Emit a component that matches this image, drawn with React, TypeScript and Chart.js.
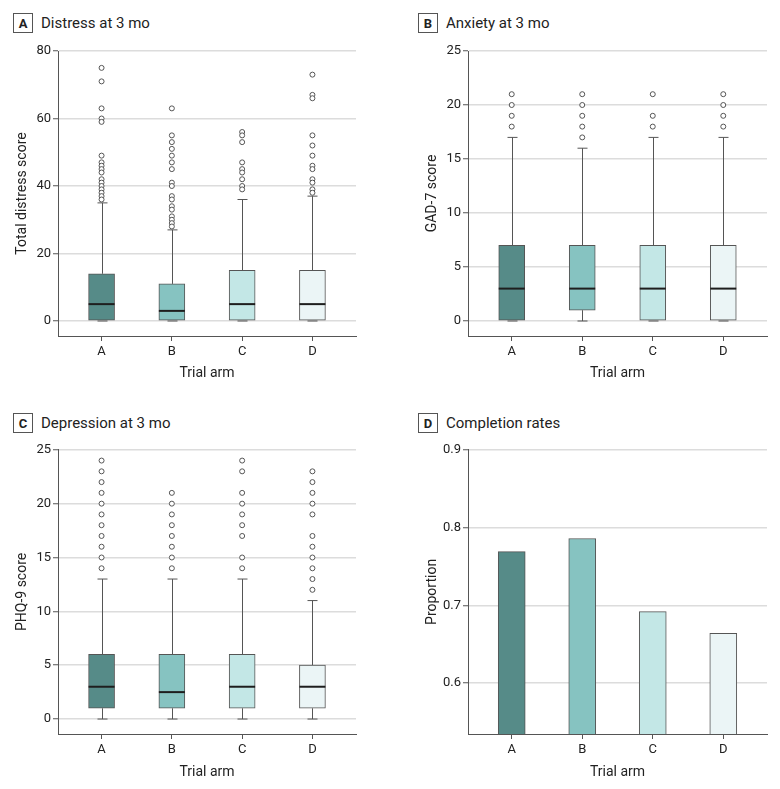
import React, { useEffect, useRef } from 'react';
import { Chart, registerables } from 'chart.js';
Chart.register(...registerables);

const FONT = "'Liberation Sans Narrow', Roboto, 'Noto Sans', sans-serif";
const TEXT = '#222';
const AXIS = '#555';

const arms = ['A', 'B', 'C', 'D'];
const armPositions = [1, 2, 3, 4];
const fillColors = ['#568b88', '#86c3c1', '#c3e7e6', '#ebf5f6'];

// Panel A: Distress at 3 mo
const distressTicks = [0, 20, 40, 60, 80];
const distressLow = [0, 0, 0, 0];
const distressQ1 = [0, 0, 0, 0];
const distressMedian = [5, 3, 5, 5];
const distressQ3 = [14, 11, 15, 15];
const distressHigh = [35, 27, 36, 37];
const distressOutliersA = [75, 71, 63, 60, 59, 49, 47, 46, 45, 44, 42, 41, 40, 39, 38, 37, 36];
const distressOutliersB = [63, 55, 53, 51, 49, 47, 45, 41, 40, 37, 36, 34, 33, 31, 30, 29, 28];
const distressOutliersC = [56, 55, 53, 47, 45, 44, 42, 40, 39];
const distressOutliersD = [73, 67, 66, 55, 52, 49, 46, 45, 42, 41, 39, 38];

// Panel B: Anxiety at 3 mo
const anxietyTicks = [0, 5, 10, 15, 20, 25];
const anxietyLow = [0, 0, 0, 0];
const anxietyQ1 = [0, 1, 0, 0];
const anxietyMedian = [3, 3, 3, 3];
const anxietyQ3 = [7, 7, 7, 7];
const anxietyHigh = [17, 16, 17, 17];
const anxietyOutliersA = [21, 20, 19, 18];
const anxietyOutliersB = [21, 20, 19, 18, 17];
const anxietyOutliersC = [21, 19, 18];
const anxietyOutliersD = [21, 20, 19, 18];

// Panel C: Depression at 3 mo
const depressionTicks = [0, 5, 10, 15, 20, 25];
const depressionLow = [0, 0, 0, 0];
const depressionQ1 = [1, 1, 1, 1];
const depressionMedian = [3, 2.5, 3, 3];
const depressionQ3 = [6, 6, 6, 5];
const depressionHigh = [13, 13, 13, 11];
const depressionOutliersA = [24, 23, 22, 21, 20, 19, 18, 17, 16, 15, 14];
const depressionOutliersB = [21, 20, 19, 18, 17, 16, 15, 14];
const depressionOutliersC = [24, 23, 21, 20, 19, 18, 17, 15, 14];
const depressionOutliersD = [23, 22, 21, 20, 19, 17, 16, 15, 14, 13, 12];

// Panel D: Completion rates
const completionTicks = [0.6, 0.7, 0.8, 0.9];
const completionRates = [0.769, 0.786, 0.692, 0.664];

type Stats = {
  low: number[]; q1: number[]; median: number[]; q3: number[]; high: number[];
  outliers: number[][];
};

const xScale = (height: number) => ({
  type: 'linear',
  min: 0.38,
  max: 4.62,
  offset: false,
  afterBuildTicks: (s: any) => { s.ticks = armPositions.map((v) => ({ value: v })); },
  afterFit: (s: any) => { s.height = height; },
  ticks: {
    autoSkip: false, maxRotation: 0, padding: 3, color: TEXT,
    font: { family: FONT, size: 13 },
    callback: (_v: any, i: number) => arms[i],
  },
  grid: { display: true, drawOnChartArea: false, drawTicks: true, tickLength: 5, tickColor: AXIS, offset: false },
  border: { display: true, color: AXIS, width: 1 },
  title: { display: true, text: 'Trial arm', color: TEXT, font: { family: FONT, size: 14 }, padding: { top: 0, bottom: 8 } },
});

const yScale = (min: number, max: number, ticks: number[], title: string, width: number, titlePad: number, fmt?: (v: number) => string) => ({
  type: 'linear',
  min, max,
  afterBuildTicks: (s: any) => { s.ticks = ticks.map((v) => ({ value: v })); },
  afterFit: (s: any) => { s.width = width; },
  ticks: {
    padding: 2, color: TEXT, font: { family: FONT, size: 13 },
    callback: (v: number) => (fmt ? fmt(v) : String(v)),
  },
  grid: { color: '#dcdcdc', lineWidth: 1.5, drawTicks: true, tickLength: 5, tickColor: AXIS, tickWidth: 1 },
  border: { display: true, color: AXIS, width: 1 },
  title: { display: true, text: title, color: TEXT, font: { family: FONT, size: 14 }, padding: { top: titlePad, bottom: 0 } },
});

function makeWhiskerPlugin(st: Stats) {
  return {
    id: 'whiskers',
    beforeDatasetsDraw(chart: any) {
      const { ctx, scales: { x, y } } = chart;
      ctx.save();
      ctx.strokeStyle = AXIS;
      ctx.lineWidth = 1;
      armPositions.forEach((p, i) => {
        const cx = Math.round(x.getPixelForValue(p)) + 0.5;
        const yl = y.getPixelForValue(st.low[i]);
        const yq1 = y.getPixelForValue(st.q1[i]);
        const yq3 = y.getPixelForValue(st.q3[i]);
        const yh = y.getPixelForValue(st.high[i]);
        ctx.beginPath();
        ctx.moveTo(cx, yq3); ctx.lineTo(cx, yh);
        ctx.moveTo(cx - 5, yh); ctx.lineTo(cx + 5, yh);
        ctx.moveTo(cx, yq1); ctx.lineTo(cx, yl);
        ctx.moveTo(cx - 5, yl); ctx.lineTo(cx + 5, yl);
        ctx.stroke();
      });
      ctx.restore();
    },
    afterDatasetsDraw(chart: any) {
      const { ctx, scales: { x, y } } = chart;
      ctx.save();
      ctx.strokeStyle = '#1e1e1e';
      ctx.lineWidth = 2;
      armPositions.forEach((p, i) => {
        const cx = x.getPixelForValue(p);
        const ym = y.getPixelForValue(st.median[i]);
        ctx.beginPath();
        ctx.moveTo(cx - 13, ym); ctx.lineTo(cx + 13, ym);
        ctx.stroke();
      });
      ctx.restore();
    },
  };
}

function boxConfig(st: Stats, ticks: number[], title: string, width: number, titlePad: number, xHeight: number, top: number, right: number) {
  const max = ticks[ticks.length - 1];
  const min = -max / 18;
  const points: { x: number; y: number }[] = [];
  st.outliers.forEach((arr, i) => arr.forEach((v) => points.push({ x: armPositions[i], y: v })));
  return {
    type: 'bar',
    data: {
      datasets: [
        {
          type: 'scatter', data: points, order: 1,
          pointRadius: 2.5, pointBackgroundColor: '#fff', pointBorderColor: AXIS, pointBorderWidth: 1,
        },
        {
          type: 'bar', order: 2,
          data: armPositions.map((p, i) => ({ x: p, y: [st.q1[i], st.q3[i]] })),
          backgroundColor: fillColors, borderColor: AXIS, borderWidth: 1, borderSkipped: false, barThickness: 26,
        },
      ],
    },
    options: {
      animation: false, responsive: false,
      layout: { padding: { left: 0, right, top, bottom: 0 } },
      plugins: { legend: { display: false }, tooltip: { enabled: false } },
      scales: { x: xScale(xHeight), y: yScale(min, max, ticks, title, width, titlePad) },
    },
    plugins: [makeWhiskerPlugin(st)],
  };
}

function barConfig() {
  return {
    type: 'bar',
    data: {
      datasets: [
        {
          data: armPositions.map((p, i) => ({ x: p, y: completionRates[i] })),
          backgroundColor: fillColors, borderColor: AXIS, borderWidth: 1, borderSkipped: 'start', barThickness: 27,
        },
      ],
    },
    options: {
      animation: false, responsive: false,
      layout: { padding: { left: 0, right: 13, top: 9, bottom: 0 } },
      plugins: { legend: { display: false }, tooltip: { enabled: false } },
      scales: {
        x: xScale(55),
        y: yScale(0.5346, 0.9, completionTicks, 'Proportion', 78, 34, (v) => v.toFixed(1)),
      },
    },
  };
}

function ChartCanvas({ config, left, top, width, height }: any) {
  const ref = useRef<HTMLCanvasElement>(null);
  useEffect(() => {
    const chart = new Chart(ref.current as HTMLCanvasElement, config());
    return () => chart.destroy();
  }, []);
  return (
    <canvas ref={ref} width={width} height={height}
      style={{ position: 'absolute', left, top, width, height }} />
  );
}

function PanelTitle({ letter, text, left, top }: any) {
  return (
    <div style={{ position: 'absolute', left, top, display: 'flex', alignItems: 'center', fontFamily: FONT, color: TEXT }}>
      <div style={{
        width: 20, height: 20, boxSizing: 'border-box', border: '1px solid #555', fontWeight: 'bold', fontSize: 13,
        display: 'flex', alignItems: 'center', justifyContent: 'center',
      }}>{letter}</div>
      <span style={{ marginLeft: 8, fontSize: 15 }}>{text}</span>
    </div>
  );
}

export default function App() {
  const distress: Stats = {
    low: distressLow, q1: distressQ1, median: distressMedian, q3: distressQ3, high: distressHigh,
    outliers: [distressOutliersA, distressOutliersB, distressOutliersC, distressOutliersD],
  };
  const anxiety: Stats = {
    low: anxietyLow, q1: anxietyQ1, median: anxietyMedian, q3: anxietyQ3, high: anxietyHigh,
    outliers: [anxietyOutliersA, anxietyOutliersB, anxietyOutliersC, anxietyOutliersD],
  };
  const depression: Stats = {
    low: depressionLow, q1: depressionQ1, median: depressionMedian, q3: depressionQ3, high: depressionHigh,
    outliers: [depressionOutliersA, depressionOutliersB, depressionOutliersC, depressionOutliersD],
  };
  return (
    <div style={{ position: 'absolute', left: 0, top: 0, width: 780, height: 789, background: '#fff' }}>
      <PanelTitle letter="A" text="Distress at 3 mo" left={13} top={13} />
      <PanelTitle letter="B" text="Anxiety at 3 mo" left={418} top={13} />
      <PanelTitle letter="C" text="Depression at 3 mo" left={13} top={413} />
      <PanelTitle letter="D" text="Completion rates" left={418} top={413} />
      <ChartCanvas left={0} top={40} width={390} height={350}
        config={() => boxConfig(distress, distressTicks, 'Total distress score', 58, 14, 54, 11, 34)} />
      <ChartCanvas left={390} top={40} width={390} height={350}
        config={() => boxConfig(anxiety, anxietyTicks, 'GAD-7 score', 78, 34, 54, 11, 13)} />
      <ChartCanvas left={0} top={440} width={390} height={349}
        config={() => boxConfig(depression, depressionTicks, 'PHQ-9 score', 58, 14, 55, 9, 34)} />
      <ChartCanvas left={390} top={440} width={390} height={349} config={barConfig} />
    </div>
  );
}
